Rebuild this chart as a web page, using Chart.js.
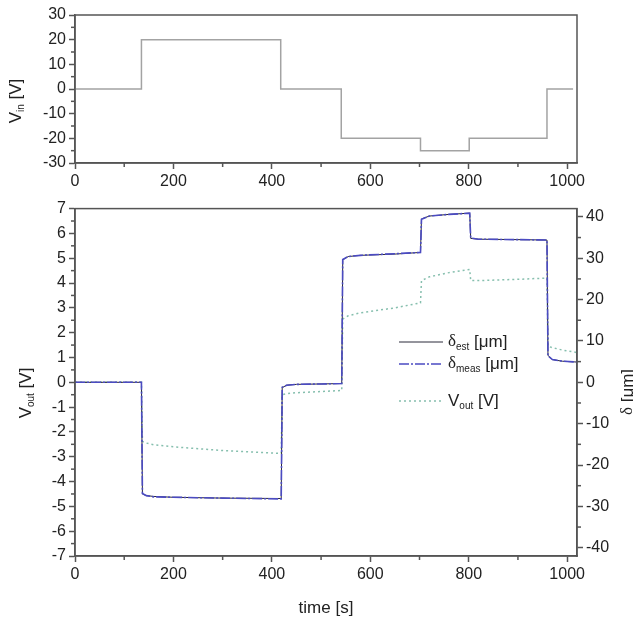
<!DOCTYPE html>
<html>
<head>
  <title>Vin / Vout / delta vs time</title>
  <script src="https://cdn.jsdelivr.net/npm/chart.js"></script>
  <style>
    body { margin: 0; background: #fff; }
    #wrap { position: relative; width: 633px; height: 619px; }
    canvas { position: absolute; left: 0; }
    #topChart { top: 0; }
    #bottomChart { top: 196px; }
  </style>
</head>
<body>
<div id="wrap">
  <canvas id="topChart" width="633" height="196"></canvas>
  <canvas id="bottomChart" width="633" height="423"></canvas>
</div>
<script>
  // input voltage, value holds from each time until the next one
  const vinTime = [0, 135, 418, 541, 702, 801, 959, 1012];
  const vinVals = [0, 20, 0, -20, -25, -20, 0, 0];

  // bottom plot, shared time base [s]
  const outTime = [0, 135, 137, 145, 160, 200, 300, 419, 421, 430, 450, 500, 542, 544, 555, 580, 650, 702,
                   704, 720, 760, 802, 804, 820, 900, 959, 961, 970, 990, 1020];
  const deltaEst = [0, 0, -27.0, -27.4, -27.6, -27.8, -28.0, -28.1, -1.3, -0.7, -0.5, -0.4, -0.3, 29.6, 30.4, 30.7, 31.0, 31.4,
                    39.5, 40.2, 40.6, 40.9, 34.8, 34.6, 34.5, 34.4, 6.5, 5.5, 5.1, 4.9];
  const deltaMeas = [0, 0, -26.9, -27.4, -27.7, -27.8, -28.0, -28.2, -1.2, -0.7, -0.5, -0.4, -0.3, 29.7, 30.4, 30.7, 31.1, 31.4,
                     39.4, 40.2, 40.6, 40.9, 34.9, 34.6, 34.5, 34.4, 6.4, 5.5, 5.1, 4.9];
  const vOut = [0, 0, -2.38, -2.45, -2.52, -2.6, -2.75, -2.87, -0.5, -0.46, -0.42, -0.37, -0.33, 2.55, 2.68, 2.8, 3.0, 3.2,
                4.1, 4.25, 4.42, 4.55, 4.1, 4.1, 4.15, 4.2, 1.45, 1.4, 1.3, 1.2];

  // tick positions
  const xMajor = [0, 200, 400, 600, 800, 1000];
  const xMinor = [100, 300, 500, 700, 900];
  const vinMajor = [-30, -20, -10, 0, 10, 20, 30];
  const vinMinor = [-25, -15, -5, 5, 15, 25];
  const voutMajor = [-7, -6, -5, -4, -3, -2, -1, 0, 1, 2, 3, 4, 5, 6, 7];
  const voutMinor = [-6.5, -5.5, -4.5, -3.5, -2.5, -1.5, -0.5, 0.5, 1.5, 2.5, 3.5, 4.5, 5.5, 6.5];
  const deltaMajor = [-40, -30, -20, -10, 0, 10, 20, 30, 40];
  const deltaMinor = [-35, -25, -15, -5, 5, 15, 25, 35];

  const AXIS = '#555';
  const SANS = '"Liberation Sans", Arial, sans-serif';
  Chart.defaults.font.family = SANS;
  Chart.defaults.font.size = 16;
  Chart.defaults.color = '#222';

  const pts = (xs, ys) => xs.map((x, i) => ({ x: x, y: ys[i] }));

  function axis(min, max, major, minor, extra) {
    return Object.assign({
      type: 'linear', min: min, max: max,
      border: { color: AXIS, width: 1.5 },
      grid: { drawOnChartArea: false, drawTicks: true, tickLength: 6, color: AXIS, tickWidth: 1.5 },
      ticks: { padding: 3, autoSkip: false, maxRotation: 0, callback: v => String(v) },
      afterBuildTicks: s => { s.ticks = major.map(v => ({ value: v })); },
      minorTicks: minor
    }, extra);
  }

  // text with a subscript, e.g. V_out [V]
  function measureParts(ctx, parts) {
    let w = 0;
    parts.forEach(p => { ctx.font = p.font; w += ctx.measureText(p.t).width; });
    return w;
  }
  function writeSub(ctx, x, y, parts) {
    parts.forEach(p => {
      ctx.font = p.font;
      ctx.fillText(p.t, x, y + (p.dy || 0));
      x += ctx.measureText(p.t).width;
    });
  }
  function rotatedLabel(ctx, cx, cy, parts) {
    const w = measureParts(ctx, parts);
    ctx.save();
    ctx.translate(cx, cy);
    ctx.rotate(-Math.PI / 2);
    ctx.textBaseline = 'middle';
    ctx.textAlign = 'left';
    ctx.fillStyle = '#222';
    writeSub(ctx, -w / 2, 0, parts);
    ctx.restore();
  }

  const BIG = '17px ' + SANS;
  const SMALL = '10px ' + SANS;
  const GREEK = '17px "Liberation Serif", "DejaVu Serif", serif';

  // frame + minor ticks
  const framePlugin = {
    id: 'frame',
    afterDraw(chart) {
      const ctx = chart.ctx, a = chart.chartArea;
      ctx.save();
      ctx.strokeStyle = AXIS;
      ctx.lineWidth = 1.5;
      ctx.strokeRect(a.left, a.top, a.right - a.left, a.bottom - a.top);
      Object.values(chart.scales).forEach(s => {
        const minor = s.options.minorTicks || [];
        minor.forEach(v => {
          const p = s.getPixelForValue(v);
          ctx.beginPath();
          if (s.isHorizontal()) { ctx.moveTo(p, a.bottom); ctx.lineTo(p, a.bottom + 4); }
          else if (s.position === 'left') { ctx.moveTo(a.left, p); ctx.lineTo(a.left - 4, p); }
          else { ctx.moveTo(a.right, p); ctx.lineTo(a.right + 4, p); }
          ctx.stroke();
        });
      });
      ctx.restore();
    }
  };

  new Chart(document.getElementById('topChart'), {
    type: 'line',
    data: {
      datasets: [{
        label: 'Vin',
        data: pts(vinTime, vinVals),
        stepped: 'before',
        borderColor: '#a3a3a3',
        borderWidth: 1.5,
        pointRadius: 0
      }]
    },
    options: {
      responsive: false,
      animation: false,
      layout: { padding: { top: 15, right: 56, left: 0, bottom: 0 } },
      plugins: { legend: { display: false }, tooltip: { enabled: false } },
      scales: {
        x: axis(0, 1020, xMajor, xMinor, { position: 'bottom', afterFit: s => { s.height = 33; } }),
        y: axis(-30, 30, vinMajor, vinMinor, { position: 'left', afterFit: s => { s.width = 75; } })
      }
    },
    plugins: [framePlugin, {
      id: 'vinTitle',
      afterDraw(chart) {
        rotatedLabel(chart.ctx, 16, 101, [
          { t: 'V', font: BIG }, { t: 'in', font: SMALL, dy: 5 }, { t: ' [V]', font: BIG }
        ]);
      }
    }]
  });

  new Chart(document.getElementById('bottomChart'), {
    type: 'line',
    data: {
      datasets: [
        {
          label: 'delta meas',
          data: pts(outTime, deltaMeas),
          yAxisID: 'y2',
          borderColor: '#4b4bc2',
          borderWidth: 1.6,
          borderDash: [10, 2, 2, 2],
          pointRadius: 0
        },
        {
          label: 'delta est',
          data: pts(outTime, deltaEst),
          yAxisID: 'y2',
          borderColor: '#2a2a3a',
          borderWidth: 1,
          pointRadius: 0
        },
        {
          label: 'Vout',
          data: pts(outTime, vOut),
          yAxisID: 'y',
          borderColor: '#86bfae',
          borderWidth: 1.5,
          borderDash: [2, 3],
          pointRadius: 0
        }
      ]
    },
    options: {
      responsive: false,
      animation: false,
      layout: { padding: { top: 12, right: 0, left: 0, bottom: 0 } },
      plugins: { legend: { display: false }, tooltip: { enabled: false } },
      scales: {
        x: axis(0, 1020, xMajor, xMinor, {
          position: 'bottom',
          title: { display: true, text: 'time [s]', font: { size: 17 }, padding: { top: 0, bottom: 0 } },
          afterFit: s => { s.height = 63; }
        }),
        y: axis(-7, 7, voutMajor, voutMinor, { position: 'left', afterFit: s => { s.width = 75; } }),
        y2: axis(-42, 42, deltaMajor, deltaMinor, {
          position: 'right',
          ticks: { padding: 3, autoSkip: false, callback: v => String(v) },
          afterFit: s => { s.width = 56; }
        })
      }
    },
    plugins: [framePlugin, {
      id: 'titlesAndLegend',
      afterDraw(chart) {
        const ctx = chart.ctx;
        rotatedLabel(ctx, 26, 197, [
          { t: 'V', font: BIG }, { t: 'out', font: SMALL, dy: 5 }, { t: ' [V]', font: BIG }
        ]);
        rotatedLabel(ctx, 628, 196, [
          { t: '\u03b4', font: GREEK }, { t: ' [\u03bcm]', font: BIG }
        ]);

        // legend
        const ds = chart.data.datasets;
        const rows = [
          { y: 146, d: ds[1], parts: [{ t: '\u03b4', font: GREEK }, { t: 'est', font: SMALL, dy: 5 }, { t: ' [\u03bcm]', font: BIG }] },
          { y: 168, d: ds[0], parts: [{ t: '\u03b4', font: GREEK }, { t: 'meas', font: SMALL, dy: 5 }, { t: ' [\u03bcm]', font: BIG }] },
          { y: 205, d: ds[2], parts: [{ t: 'V', font: BIG }, { t: 'out', font: SMALL, dy: 5 }, { t: ' [V]', font: BIG }] }
        ];
        ctx.save();
        rows.forEach(r => {
          ctx.strokeStyle = r.d.borderColor;
          ctx.lineWidth = r.d.borderWidth;
          ctx.setLineDash(r.d.borderDash || []);
          ctx.beginPath();
          ctx.moveTo(399, r.y);
          ctx.lineTo(443, r.y);
          ctx.stroke();
          ctx.setLineDash([]);
          ctx.fillStyle = '#222';
          ctx.textBaseline = 'middle';
          ctx.textAlign = 'left';
          writeSub(ctx, 448, r.y, r.parts);
        });
        ctx.restore();
      }
    }]
  });
</script>
</body>
</html>
